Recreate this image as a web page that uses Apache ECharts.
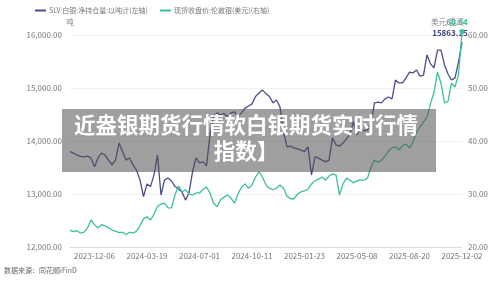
<!DOCTYPE html>
<html>
<head>
<meta charset="utf-8">
<script src="https://cdn.jsdelivr.net/npm/echarts@6/dist/echarts.min.js"></script>
<style>
  html, body { margin: 0; padding: 0; background: #fff; }
  #chart { width: 500px; height: 282px; }
</style>
</head>
<body>
<div id="chart"></div>
<script>
// 日期（周采样）
var dates = [
  '2023-10-18','2023-10-25','2023-11-01','2023-11-08','2023-11-15','2023-11-22','2023-11-29',
  '2023-12-06','2023-12-13','2023-12-20','2023-12-27','2024-01-03','2024-01-10','2024-01-17','2024-01-24','2024-01-31','2024-02-07','2024-02-14','2024-02-21','2024-02-28','2024-03-06','2024-03-13',
  '2024-03-19','2024-03-26','2024-04-02','2024-04-09','2024-04-16','2024-04-23','2024-04-30','2024-05-07','2024-05-14','2024-05-21','2024-05-28','2024-06-04','2024-06-11','2024-06-18','2024-06-25',
  '2024-07-01','2024-07-08','2024-07-15','2024-07-22','2024-07-29','2024-08-05','2024-08-12','2024-08-19','2024-08-26','2024-09-02','2024-09-09','2024-09-16','2024-09-23','2024-09-30','2024-10-07',
  '2024-10-11','2024-10-18','2024-10-25','2024-11-01','2024-11-08','2024-11-15','2024-11-22','2024-11-29','2024-12-06','2024-12-13','2024-12-20','2024-12-27','2025-01-03','2025-01-10','2025-01-17',
  '2025-01-23','2025-01-30','2025-02-06','2025-02-13','2025-02-20','2025-02-27','2025-03-06','2025-03-13','2025-03-20','2025-03-27','2025-04-03','2025-04-10','2025-04-17','2025-04-24','2025-05-01',
  '2025-05-08','2025-05-15','2025-05-22','2025-05-29','2025-06-05','2025-06-12','2025-06-19','2025-06-26','2025-07-03','2025-07-10','2025-07-17','2025-07-24','2025-07-31','2025-08-07','2025-08-14',
  '2025-08-20','2025-08-27','2025-09-03','2025-09-10','2025-09-17','2025-09-24','2025-10-01','2025-10-08','2025-10-15','2025-10-22','2025-10-29','2025-11-05','2025-11-12','2025-11-19','2025-11-26',
  '2025-12-02'
];
// 显示的刻度标签
var tickLabels = ['2023-12-06','2024-03-19','2024-07-01','2024-10-11','2025-01-23','2025-05-08','2025-08-20','2025-12-02'];

// SLV 白银净持仓量（吨）
var slvHolding = [
  13800,13770,13735,13710,13700,13715,13680,
  13515,13680,13770,13735,13640,13550,13640,13960,13800,13640,13680,13550,13450,13265,12950,
  13190,13140,13360,13735,12980,13265,13300,13245,13140,13095,13040,12885,13020,13415,13680,
  13585,13605,13530,14115,14470,14530,14490,14520,14460,14530,14550,14460,14530,14620,14660,
  14700,14840,14905,14960,14890,14840,14720,14775,14640,14170,13890,13905,13870,13850,13830,
  13800,13890,13360,13700,13680,13640,13605,13640,14060,13925,13905,13960,14040,14130,14360,
  14115,14245,14190,14210,14340,14720,14735,14720,14795,14830,14795,15150,15095,15095,15190,
  15300,15285,15340,15225,15245,15625,15455,15380,15715,15715,15435,15265,15150,15190,15490,
  15863.15
];
// 伦敦银现货收盘价（美元/盎司）
var silverPrice = [
  23.2,22.9,23.1,22.6,22.8,23.6,25.1,
  24.2,23.6,24.2,24.0,23.6,23.2,23.0,22.7,22.8,22.3,22.8,22.6,23.0,24.0,25.3,
  25.7,25.1,26.2,27.7,28.1,28.3,27.4,27.4,29.8,31.5,30.4,30.8,30.0,29.8,30.2,
  30.2,30.9,31.3,30.2,28.3,27.6,28.9,29.4,29.8,29.2,28.3,30.0,31.3,31.9,31.1,
  31.7,33.2,34.2,33.2,31.7,31.1,30.8,31.1,31.7,31.1,29.6,29.1,29.1,30.0,30.4,
  30.6,30.9,31.9,32.5,32.8,33.2,32.6,33.4,33.8,33.6,29.8,31.9,33.0,32.6,32.1,
  32.5,32.6,32.6,33.0,35.1,36.4,36.0,36.4,37.2,38.1,38.7,38.9,38.3,39.1,39.4,
  38.7,39.8,41.7,42.6,43.6,44.5,47.0,49.2,53.0,50.9,47.2,47.5,50.9,50.2,52.5,
  60.64
];

var navy = '#4a4d8c';
var teal = '#3fbf9f';
var font = '"Noto Sans CJK SC", "Noto Sans", sans-serif';

// 最后一个点显示数值标签
function lastLabel(arr, color, offset, dotSize) {
  var data = arr.slice();
  var n = data.length - 1;
  data[n] = {
    value: data[n],
    symbolSize: dotSize,
    label: {
      show: true, position: 'top', offset: offset, color: color,
      fontSize: 8, fontWeight: 'bold', fontFamily: font
    }
  };
  return data;
}

var chart = echarts.init(document.getElementById('chart'));
var option = {
  animation: false,
  textStyle: { fontFamily: font },
  legend: {
    left: 30, top: 2,
    icon: 'rect', itemWidth: 11, itemHeight: 2, itemGap: 12,
    textStyle: { fontSize: 7, color: '#777', padding: [0, 0, 0, -2] },
    data: ['SLV:白银:净持仓量:以吨计(左轴)', '现货收盘价:伦敦银(美元)(右轴)']
  },
  grid: { left: 70, right: 38, top: 35, bottom: 35 },
  xAxis: {
    type: 'category',
    boundaryGap: false,
    data: dates,
    axisLine: { lineStyle: { color: '#ddd' } },
    axisTick: { show: false },
    axisLabel: {
      color: '#777', fontSize: 8, margin: 5,
      interval: function (idx, val) { return tickLabels.indexOf(val) >= 0; }
    }
  },
  yAxis: [{
    type: 'value', min: 12000, max: 16000, interval: 1000,
    name: '吨', nameGap: 9,
    nameTextStyle: { color: '#888', fontSize: 7.5 },
    axisLabel: {
      color: '#777', fontSize: 8, margin: 8,
      formatter: function (v) { return v.toLocaleString('en-US', { minimumFractionDigits: 2 }); }
    },
    splitLine: { lineStyle: { color: '#f0f0f0' } }
  }, {
    type: 'value', min: 20, max: 60, interval: 10,
    name: '美元/盎司', nameGap: 9,
    nameTextStyle: { color: '#888', fontSize: 7.5, align: 'right', padding: [0, -2, 0, 0] },
    axisLabel: {
      color: '#777', fontSize: 8, margin: 6,
      formatter: function (v) { return v.toFixed(2); }
    },
    splitLine: { show: false }
  }],
  series: [{
    name: 'SLV:白银:净持仓量:以吨计(左轴)',
    type: 'line',
    yAxisIndex: 0,
    data: lastLabel(slvHolding, '#3a3f7a', [-12, 0], 0.1),
    symbol: 'circle',
    symbolSize: 0,
    showAllSymbol: true,
    clip: false,
    lineStyle: { color: navy, width: 1.3 },
    itemStyle: { color: navy },
    z: 3
  }, {
    name: '现货收盘价:伦敦银(美元)(右轴)',
    type: 'line',
    yAxisIndex: 1,
    data: lastLabel(silverPrice, teal, [-5, 2], 5),
    symbol: 'circle',
    symbolSize: 0,
    showAllSymbol: true,
    clip: false,
    lineStyle: { color: teal, width: 1.3 },
    itemStyle: { color: teal },
    z: 4
  }],
  graphic: [{
    type: 'rect', z: 100,
    shape: { x: 62, y: 109, width: 374, height: 63 },
    style: { fill: 'rgba(80,80,80,0.55)' }
  }, {
    type: 'text', z: 101, x: 246, y: 125,
    style: {
      text: '近盎银期货行情软白银期货实时行情', fill: '#fff',
      font: 'bold 21.5px "Noto Sans CJK SC"', align: 'center', verticalAlign: 'middle'
    }
  }, {
    type: 'text', z: 101, x: 246, y: 151,
    style: {
      text: '指数】', fill: '#fff',
      font: 'bold 21.5px "Noto Sans CJK SC"', align: 'center', verticalAlign: 'middle'
    }
  }, {
    type: 'text', left: 4, top: 267,
    style: { text: '数据来源：同花顺iFinD', fill: '#666', font: '7px "Noto Sans CJK SC"' }
  }]
};
chart.setOption(option);
</script>
</body>
</html>
